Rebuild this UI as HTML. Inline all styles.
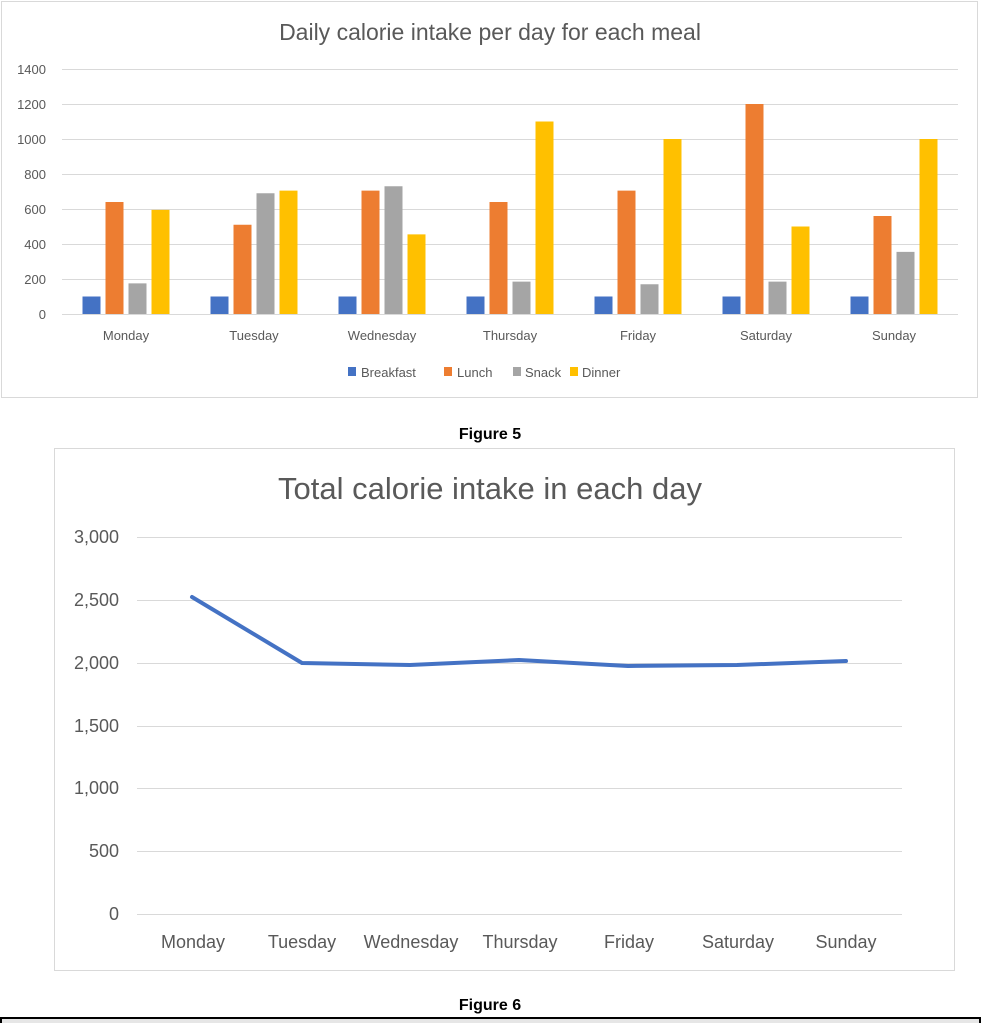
<!DOCTYPE html>
<html><head><meta charset="utf-8"><style>
body{margin:0;background:#fff;width:981px;height:1023px;overflow:hidden;position:relative;font-family:"Liberation Sans",sans-serif}
svg{position:absolute;left:0;top:0}
</style></head><body>
<svg width="981" height="1023" xmlns="http://www.w3.org/2000/svg">
<rect x="1.5" y="1.5" width="976" height="396" fill="#fff" stroke="#d9d9d9"/>
<text x="490" y="40" text-anchor="middle" font-size="23" fill="#595959" font-family="Liberation Sans,sans-serif">Daily calorie intake per day for each meal</text>
<g stroke="#d9d9d9" stroke-width="1">
<line x1="62" x2="958" y1="314.5" y2="314.5"/><line x1="62" x2="958" y1="279.5" y2="279.5"/><line x1="62" x2="958" y1="244.5" y2="244.5"/><line x1="62" x2="958" y1="209.5" y2="209.5"/><line x1="62" x2="958" y1="174.5" y2="174.5"/><line x1="62" x2="958" y1="139.5" y2="139.5"/><line x1="62" x2="958" y1="104.5" y2="104.5"/><line x1="62" x2="958" y1="69.5" y2="69.5"/>
</g>
<g font-size="13" fill="#595959" text-anchor="end">
<text x="46" y="319">0</text><text x="46" y="284">200</text><text x="46" y="249">400</text><text x="46" y="214">600</text><text x="46" y="179">800</text><text x="46" y="144">1000</text><text x="46" y="109">1200</text><text x="46" y="74">1400</text>
</g>
<g id="bars"></g>
<g font-size="13" fill="#595959" text-anchor="middle">
<text x="126" y="340">Monday</text><text x="254" y="340">Tuesday</text><text x="382" y="340">Wednesday</text><text x="510" y="340">Thursday</text><text x="638" y="340">Friday</text><text x="766" y="340">Saturday</text><text x="894" y="340">Sunday</text>
</g>
<g font-size="13" fill="#595959">
<rect x="348" y="367" width="8" height="9" fill="#4472c4"/><text x="361" y="377">Breakfast</text>
<rect x="444" y="367" width="8" height="9" fill="#ed7d31"/><text x="457" y="377">Lunch</text>
<rect x="513" y="367" width="8" height="9" fill="#a5a5a5"/><text x="525" y="377">Snack</text>
<rect x="570" y="367" width="8" height="9" fill="#ffc000"/><text x="582" y="377">Dinner</text>
</g>
<text x="490" y="439" text-anchor="middle" font-size="16" font-weight="bold" fill="#000">Figure 5</text>

<rect x="54.5" y="448.5" width="900" height="522" fill="#fff" stroke="#d9d9d9"/>
<text x="490" y="499" text-anchor="middle" font-size="31" fill="#595959">Total calorie intake in each day</text>
<g stroke="#d9d9d9" stroke-width="1">
<line x1="137" x2="902" y1="914.5" y2="914.5"/><line x1="137" x2="902" y1="851.5" y2="851.5"/><line x1="137" x2="902" y1="788.5" y2="788.5"/><line x1="137" x2="902" y1="726.5" y2="726.5"/><line x1="137" x2="902" y1="663.5" y2="663.5"/><line x1="137" x2="902" y1="600.5" y2="600.5"/><line x1="137" x2="902" y1="537.5" y2="537.5"/>
</g>
<g font-size="18" fill="#595959" text-anchor="end">
<text x="119" y="920">0</text><text x="119" y="857">500</text><text x="119" y="794">1,000</text><text x="119" y="732">1,500</text><text x="119" y="669">2,000</text><text x="119" y="606">2,500</text><text x="119" y="543">3,000</text>
</g>
<polyline fill="none" stroke="#4472c4" stroke-width="4" stroke-linejoin="round" stroke-linecap="round"
 points="192,597 302,663 410,665 519,660 628,666 737,665 846,661"/>
<g font-size="18" fill="#595959" text-anchor="middle">
<text x="193" y="948">Monday</text><text x="302" y="948">Tuesday</text><text x="411" y="948">Wednesday</text><text x="520" y="948">Thursday</text><text x="629" y="948">Friday</text><text x="738" y="948">Saturday</text><text x="846" y="948">Sunday</text>
</g>
<text x="490" y="1010" text-anchor="middle" font-size="16" font-weight="bold" fill="#000">Figure 6</text>
<rect x="1" y="1018" width="979" height="10" fill="#e6e6e6" stroke="#000" stroke-width="2"/>
</svg>
<script>
var d=[[100,640,175,595],[100,510,690,705],[100,705,730,455],[100,640,185,1100],[100,705,170,1000],[100,1200,185,500],[100,560,355,1000]];
var c=["#4472c4","#ed7d31","#a5a5a5","#ffc000"],off=[-34.5,-11.5,11.5,34.5],s="";
d.forEach(function(r,i){var cx=126+128*i;r.forEach(function(v,j){var h=v*35/200;s+='<rect x="'+(cx+off[j]-9)+'" y="'+(314-h)+'" width="18" height="'+h+'" fill="'+c[j]+'"/>';});});
document.getElementById("bars").innerHTML=s;
</script>
</body></html>
